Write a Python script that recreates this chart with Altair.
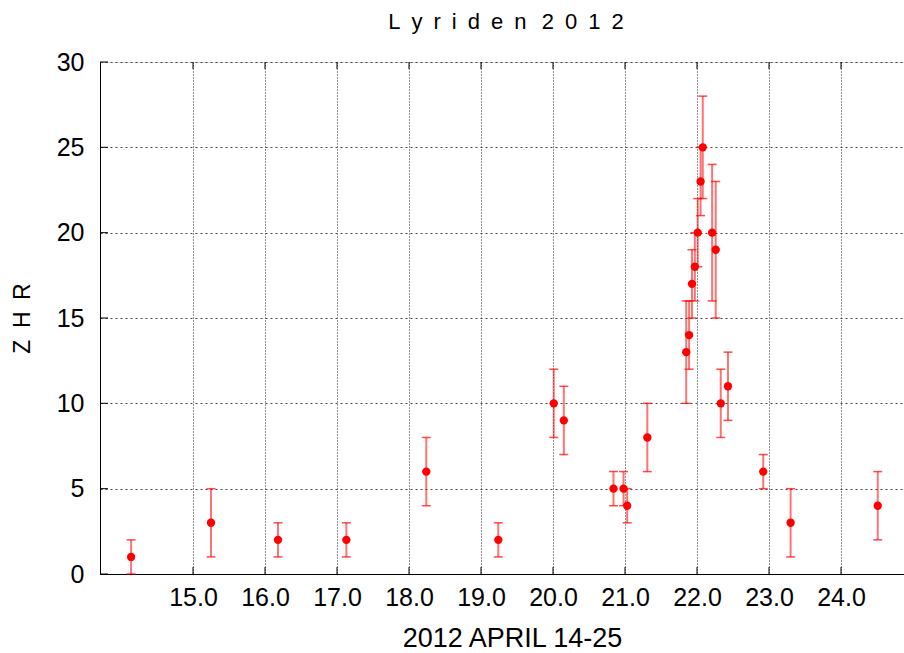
import altair as alt
import pandas as pd

# Data
day = [14.14, 15.25, 16.18, 17.13, 18.24, 19.24, 20.01, 20.15, 20.84, 20.98,
       21.03, 21.31, 21.85, 21.89, 21.93, 21.97, 22.01, 22.05, 22.08, 22.21,
       22.26, 22.33, 22.43, 22.92, 23.30, 24.51]
zhr = [1, 3, 2, 2, 6, 2, 10, 9, 5, 5,
       4, 8, 13, 14, 17, 18, 20, 23, 25, 20,
       19, 10, 11, 6, 3, 4]
err = [1, 2, 1, 1, 2, 1, 2, 2, 1, 1,
       1, 2, 3, 2, 2, 2, 2, 2, 3, 4,
       4, 2, 2, 1, 2, 2]
x_ticks = [15, 16, 17, 18, 19, 20, 21, 22, 23, 24]
y_ticks = [0, 5, 10, 15, 20, 25, 30]

df = pd.DataFrame({"day": day, "zhr": zhr, "err": err})
df["lo"] = df["zhr"] - df["err"]
df["hi"] = df["zhr"] + df["err"]
xt = pd.DataFrame({"t": x_ticks})
yt = pd.DataFrame({"t": y_ticks})

W, H = 804, 512
FONT = "Liberation Sans"
SP = "\u2002"
title_text = SP.join("Lyriden") + SP + "\u2009" + SP.join("2012")
ylab = SP.join("ZHR")

xscale = alt.Scale(domain=[13.708, 24.875], nice=False, zero=False)
yscale = alt.Scale(domain=[0, 30], nice=False)

xenc = alt.X("day:Q", scale=xscale, axis=alt.Axis(
    values=x_ticks, format=".1f", title="2012 APRIL 14-25",
    grid=True, gridDash=[1, 2], gridColor="#222", gridWidth=1,
    ticks=False, labelPadding=11, labelFontSize=25, labelFont=FONT,
    labelColor="black", titleFontSize=27, titleFont=FONT, titleFontWeight="normal",
    titleColor="black", titleX=412, titleY=64, titleBaseline="middle",
    domainColor="black", labelFlush=False))
yenc = alt.Y("zhr:Q", scale=yscale, axis=alt.Axis(
    values=y_ticks, title=ylab, grid=True, gridDash=[2, 3], gridColor="#444",
    gridWidth=1, ticks=False, labelPadding=16, labelFontSize=25, labelFont=FONT,
    labelColor="black", titleFontSize=23, titleFont=FONT, titleFontWeight="normal",
    titleColor="black", titleX=-78, titleY=256, titleAngle=-90,
    titleAlign="center", titleBaseline="middle", domainColor="black"))

base = alt.Chart(df)

bars = base.mark_rule(color="#ff0000", opacity=0.55, strokeWidth=2).encode(
    x=alt.X("day:Q", scale=xscale), y=alt.Y("lo:Q", scale=yscale), y2="hi:Q")
cap_lo = base.mark_tick(orient="horizontal", color="#ff0000", opacity=0.7,
                        size=9, thickness=1.5).encode(
    x=alt.X("day:Q", scale=xscale), y=alt.Y("lo:Q", scale=yscale))
cap_hi = base.mark_tick(orient="horizontal", color="#ff0000", opacity=0.7,
                        size=9, thickness=1.5).encode(
    x=alt.X("day:Q", scale=xscale), y=alt.Y("hi:Q", scale=yscale))
pts = base.mark_circle(color="#ff0000", opacity=1, size=70).encode(x=xenc, y=yenc)

tick_b = alt.Chart(xt).mark_rule(color="black", strokeWidth=1).encode(
    x=alt.X("t:Q", scale=xscale), y=alt.value(H), y2=alt.value(H - 7))
tick_t = alt.Chart(xt).mark_rule(color="black", strokeWidth=1).encode(
    x=alt.X("t:Q", scale=xscale), y=alt.value(0), y2=alt.value(7))
tick_l = alt.Chart(yt).mark_rule(color="black", strokeWidth=1).encode(
    y=alt.Y("t:Q", scale=yscale), x=alt.value(0), x2=alt.value(8))

chart = alt.layer(pts, bars, cap_lo, cap_hi, tick_b, tick_t, tick_l).properties(
    width=W, height=H,
    title=alt.TitleParams(title_text, fontSize=22, font=FONT,
                          fontWeight="normal", color="black", anchor="middle",
                          offset=16, dx=4),
    autosize=alt.AutoSizeParams(type="none"),
    padding={"left": 100, "top": 62, "right": 0, "bottom": 79},
).configure_view(stroke="black", strokeWidth=1.5).configure(background="white")

chart.save("out.html", embed_options={"renderer": "svg", "actions": False})
